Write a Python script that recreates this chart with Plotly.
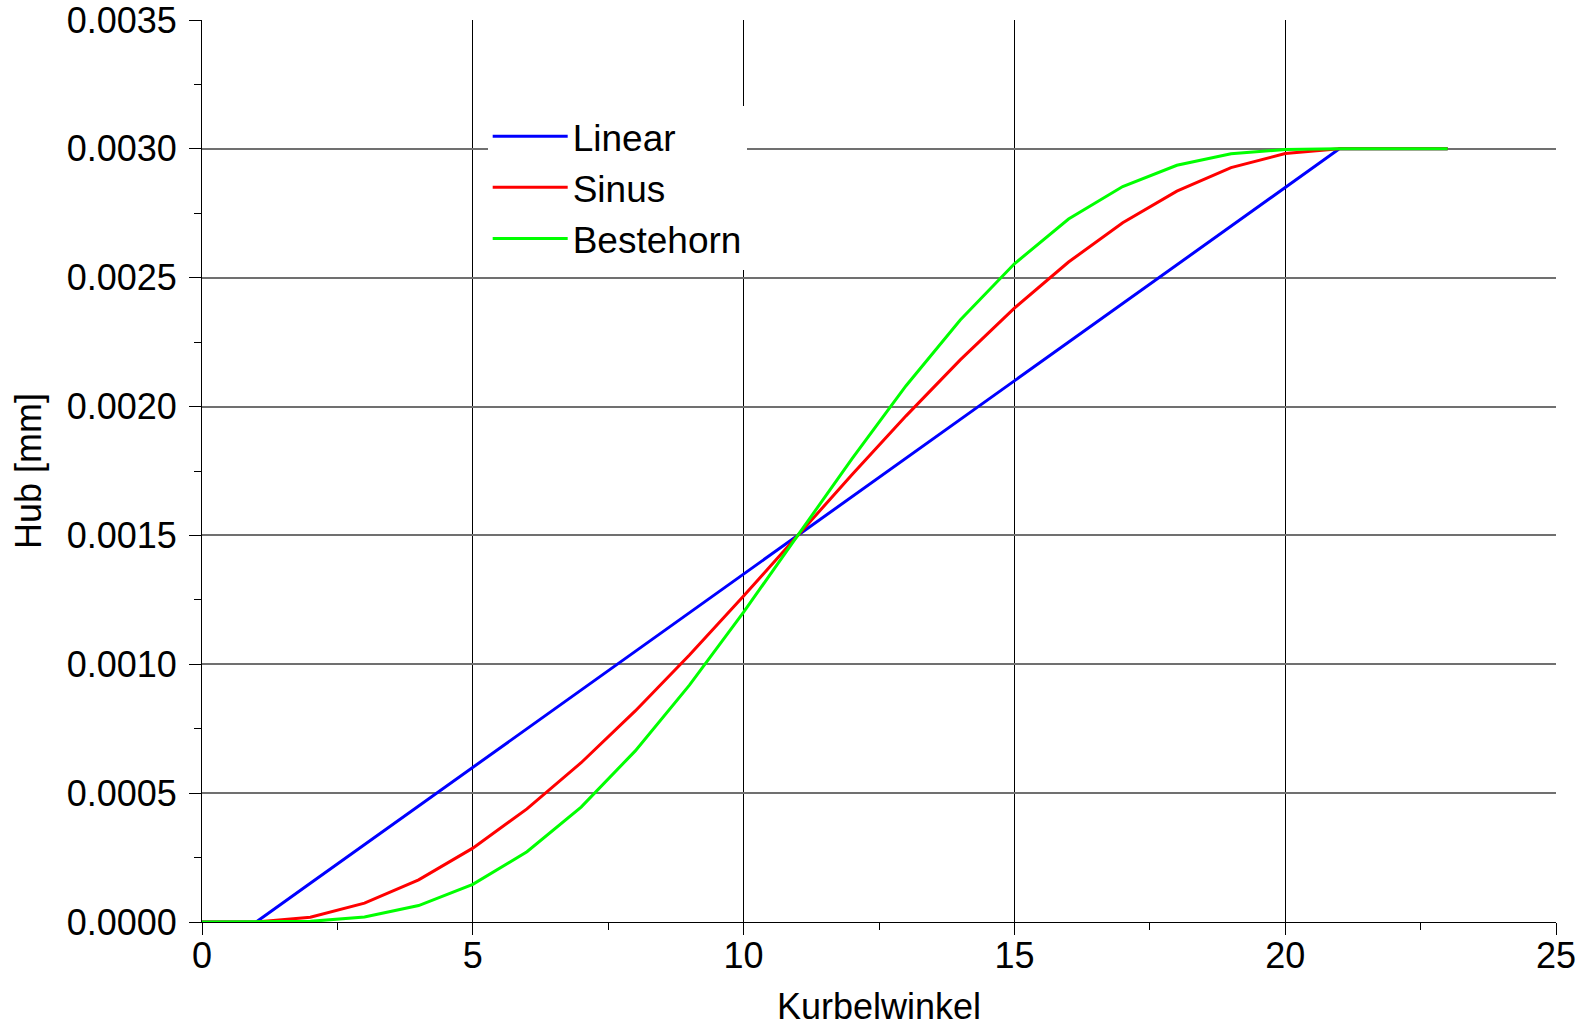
import plotly.graph_objects as go

kurbelwinkel = list(range(0, 24))

linear = [0.0, 0.0, 0.00015, 0.0003, 0.00045, 0.0006, 0.00075, 0.0009, 0.00105, 0.0012,
          0.00135, 0.0015, 0.00165, 0.0018, 0.00195, 0.0021, 0.00225, 0.0024, 0.00255,
          0.0027, 0.00285, 0.003, 0.003, 0.003]

sinus = [0.0, 0.0, 0.0000185, 0.0000734, 0.0001635, 0.0002865, 0.000439, 0.000618,
         0.000819, 0.001036, 0.001265, 0.0015, 0.001735, 0.001964, 0.002181, 0.002382,
         0.002561, 0.002713, 0.002836, 0.002927, 0.002982, 0.003, 0.003, 0.003]

bestehorn = [0.0, 0.0, 0.0000025, 0.0000194, 0.0000637, 0.000146, 0.0002725, 0.000446,
             0.000664, 0.000919, 0.0012025, 0.0015, 0.0017975, 0.002081, 0.002336,
             0.002554, 0.0027275, 0.002854, 0.0029363, 0.0029806, 0.0029975, 0.003,
             0.003, 0.003]

series_names = ["Linear", "Sinus", "Bestehorn"]
series_colors = ["#0000ff", "#ff0000", "#00ff00"]

font_family = "Liberation Sans, Arial, sans-serif"

fig = go.Figure()
for name, vals, col in zip(series_names, [linear, sinus, bestehorn], series_colors):
    fig.add_trace(go.Scatter(x=kurbelwinkel, y=vals, mode="lines", name=name,
                             line=dict(color=col, width=3)))

fig.update_layout(
    width=1589, height=1027,
    margin=dict(l=202, r=33, t=20, b=105, autoexpand=False),
    paper_bgcolor="white", plot_bgcolor="white",
    font=dict(family=font_family, size=36, color="black"),
    showlegend=True,
    legend=dict(x=0.211, y=0.905, xanchor="left", yanchor="top",
                bgcolor="white", borderwidth=0,
                font=dict(size=37, family=font_family, color="black"),
                itemwidth=75, tracegroupgap=0),
)

fig.update_xaxes(
    range=[0, 25], tickmode="linear", tick0=0, dtick=5,
    automargin=False, ticklabeloverflow="allow", ticklabelstandoff=-10,
    showgrid=True, gridcolor="black", gridwidth=1,
    showline=True, linecolor="black", linewidth=1,
    zeroline=False,
    ticks="outside", ticklen=12, tickcolor="black", tickwidth=1,
    minor=dict(ticks="outside", ticklen=7, dtick=2.5, tickcolor="black", showgrid=False),
    title=dict(text="Kurbelwinkel", font=dict(size=36), standoff=18),
    tickfont=dict(size=36),
)
fig.update_yaxes(
    range=[0, 0.0035], tickmode="linear", tick0=0, dtick=0.0005,
    tickformat=".4f",
    automargin=False, ticklabeloverflow="allow", ticklabelstandoff=5,
    showgrid=True, gridcolor="#707070", gridwidth=2,
    showline=True, linecolor="black", linewidth=1,
    zeroline=False,
    ticks="outside", ticklen=12, tickcolor="black", tickwidth=1,
    minor=dict(ticks="outside", ticklen=7, dtick=0.00025, tickcolor="black", showgrid=False),
    title=dict(text="Hub [mm]", font=dict(size=36), standoff=14),
    tickfont=dict(size=36),
)

# remove the default 8px page margin so the figure fills the window exactly
fig.write_html("out.html",
               config={"displayModeBar": False},
               post_script="document.body.style.margin='0';document.body.style.overflow='hidden';")
